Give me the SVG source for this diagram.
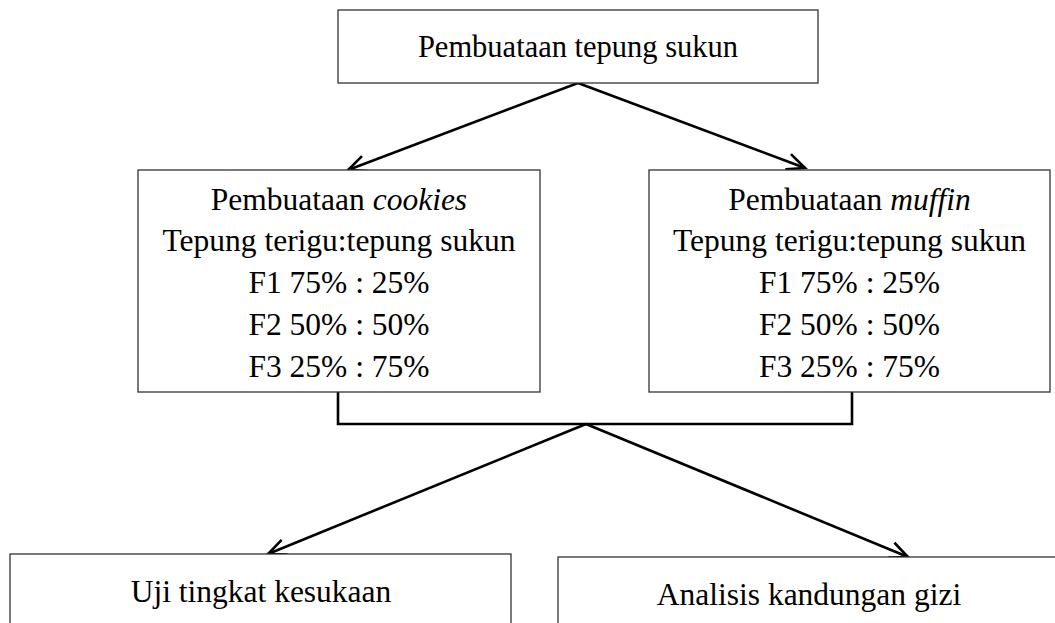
<svg xmlns="http://www.w3.org/2000/svg" width="1055" height="623" viewBox="0 0 1055 623">
  <style>
    .box { fill: #fff; stroke: #333; stroke-width: 1.3; }
    .t { font-family: "Liberation Serif", "Times New Roman", serif; font-size: 31.5px; fill: #000; text-anchor: middle; }
    .conn { fill: none; stroke: #000; stroke-width: 2.6; }
  </style>
  <defs>
    <marker id="arr" markerUnits="userSpaceOnUse" markerWidth="24" markerHeight="24" refX="20" refY="10" orient="auto">
      <path d="M2,2 L20,10 L2,18" fill="none" stroke="#000" stroke-width="2.6"/>
    </marker>
  </defs>
  <rect width="1055" height="623" fill="#fff"/>

  <g id="connectors">
    <line class="conn" x1="578" y1="83" x2="348" y2="170" marker-end="url(#arr)"/>
    <line class="conn" x1="578" y1="83" x2="805" y2="168" marker-end="url(#arr)"/>
    <polyline class="conn" points="338,392 338,424 852,424 852,392"/>
    <line class="conn" x1="586" y1="424" x2="268" y2="554" marker-end="url(#arr)"/>
    <line class="conn" x1="586" y1="424" x2="908" y2="557" marker-end="url(#arr)"/>
  </g>

  <g id="node-top">
    <rect class="box" x="338" y="10" width="480" height="73"/>
    <text class="t" x="578" y="57" style="font-size:30.5px">Pembuataan tepung sukun</text>
  </g>

  <g id="node-cookies">
    <rect class="box" x="138" y="170" width="402" height="222"/>
    <text class="t" x="339" y="210">Pembuataan <tspan font-style="italic">cookies</tspan></text>
    <text class="t" x="339" y="251">Tepung terigu:tepung sukun</text>
    <text class="t" x="339" y="293">F1 75% : 25%</text>
    <text class="t" x="339" y="335">F2 50% : 50%</text>
    <text class="t" x="339" y="377">F3 25% : 75%</text>
  </g>

  <g id="node-muffin">
    <rect class="box" x="649" y="170" width="401" height="222"/>
    <text class="t" x="849.5" y="210">Pembuataan <tspan font-style="italic">muffin</tspan></text>
    <text class="t" x="849.5" y="251">Tepung terigu:tepung sukun</text>
    <text class="t" x="849.5" y="293">F1 75% : 25%</text>
    <text class="t" x="849.5" y="335">F2 50% : 50%</text>
    <text class="t" x="849.5" y="377">F3 25% : 75%</text>
  </g>

  <g id="node-uji">
    <rect class="box" x="10" y="554" width="501" height="80"/>
    <text class="t" x="261" y="602">Uji tingkat kesukaan</text>
  </g>

  <g id="node-analisis">
    <rect class="box" x="558" y="557" width="510" height="80"/>
    <text class="t" x="809" y="605">Analisis kandungan gizi</text>
  </g>
</svg>
